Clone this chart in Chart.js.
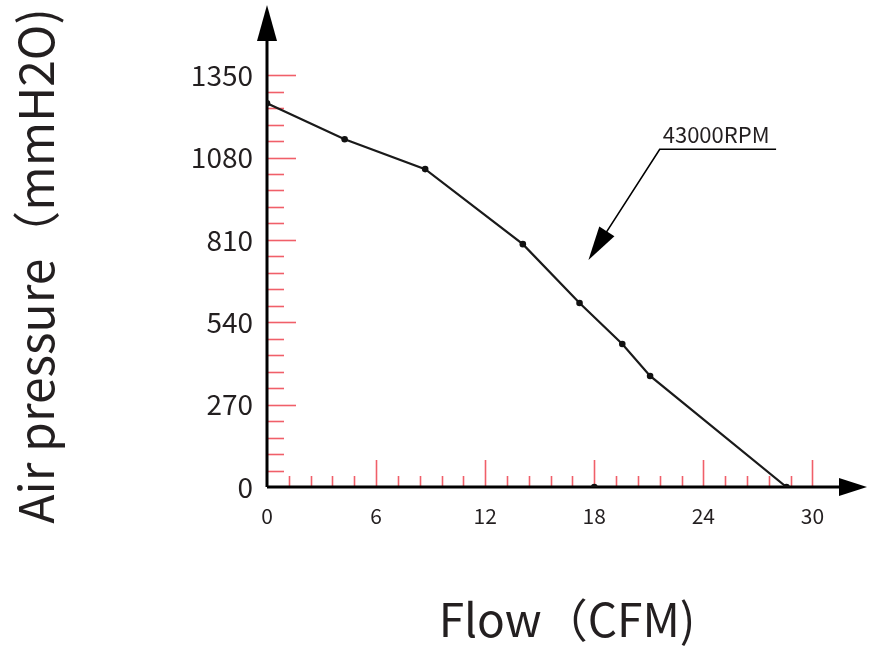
<!DOCTYPE html>
<html><head><meta charset="utf-8">
<script src="https://cdn.jsdelivr.net/npm/chart.js@4/dist/chart.umd.min.js"></script>
<style>html,body{margin:0;padding:0;background:#fff}#wrap{width:871px;height:648px}</style>
</head><body><div id="wrap"><canvas id="c" width="871" height="648"></canvas></div>
<script>
// ---- data ----
const flowCFM   = [0, 4.27, 8.70, 14.07, 17.19, 19.54, 21.07, 28.57];
const pressure  = [1258, 1140, 1042, 796, 603, 469, 364, 0];
const strayFlow = [18];
const strayPressure = [0];
const xTickLabels = [0, 6, 12, 18, 24, 30];
const yTickLabels = [0, 270, 540, 810, 1080, 1350];
const xMinorStep = 1.2;
const yMinorStep = 54;
const curveLabel = '43000RPM';
const xTitle = 'Flow（CFM)';
const yTitle = 'Air pressure（mmH2O)';
// annotation anchors in data units
const noteTextX = 21.6, noteLineEndX = 28.0, noteLineY = 1107, noteTipX = 17.68, noteTipY = 744;

const FONT = '"Noto Sans CJK SC", "Noto Sans", sans-serif';
const TICK_RED = 'rgb(240,95,105)';
const TEXT = '#231f20';

const pts = flowCFM.map((x, i) => ({x, y: pressure[i]}));
const stray = strayFlow.map((x, i) => ({x, y: strayPressure[i]}));

function arrowHead(ctx, tx, ty, fx, fy, len, half) {
  const a = Math.atan2(ty - fy, tx - fx);
  ctx.beginPath();
  ctx.moveTo(tx, ty);
  ctx.lineTo(tx - len * Math.cos(a) + half * Math.sin(a), ty - len * Math.sin(a) - half * Math.cos(a));
  ctx.lineTo(tx - len * Math.cos(a) - half * Math.sin(a), ty - len * Math.sin(a) + half * Math.cos(a));
  ctx.closePath();
  ctx.fill();
}

const decor = {
  id: 'decor',
  beforeDatasetsDraw(chart) {
    const {ctx, scales: {x, y}, chartArea: ca} = chart;
    const x0 = x.getPixelForValue(0), y0 = y.getPixelForValue(0);
    ctx.save();
    // red tick marks
    ctx.strokeStyle = TICK_RED;
    ctx.lineWidth = 1.6;
    for (let k = 1; k * yMinorStep <= 1350 + 1e-6; k++) {
      const v = k * yMinorStep;
      const major = yTickLabels.includes(Math.round(v));
      const py = Math.round(y.getPixelForValue(v)) + 0.5;
      ctx.beginPath();
      ctx.moveTo(x0, py);
      ctx.lineTo(x0 + (major ? 29 : 17), py);
      ctx.stroke();
    }
    for (let k = 1; k * xMinorStep <= 30 + 1e-6; k++) {
      const v = +(k * xMinorStep).toFixed(4);
      const major = xTickLabels.includes(Math.round(v)) && Math.abs(v - Math.round(v)) < 1e-6;
      const px = Math.round(x.getPixelForValue(v)) + 0.5;
      ctx.beginPath();
      ctx.moveTo(px, y0);
      ctx.lineTo(px, y0 - (major ? 27 : 11));
      ctx.stroke();
    }
    // axes
    ctx.strokeStyle = '#000';
    ctx.fillStyle = '#000';
    ctx.lineWidth = 3;
    ctx.beginPath();
    ctx.moveTo(x0, y0);
    ctx.lineTo(ca.right - 20, y0);
    ctx.moveTo(x0, y0);
    ctx.lineTo(x0, ca.top + 20);
    ctx.stroke();
    arrowHead(ctx, ca.right, y0, x0, y0, 28, 9);
    arrowHead(ctx, x0, ca.top, x0, y0, 36, 10);
    ctx.restore();
  },
  afterDraw(chart) {
    const {ctx, scales: {x, y}} = chart;
    ctx.save();
    // annotation
    const lx0 = x.getPixelForValue(noteTextX), lx1 = x.getPixelForValue(noteLineEndX);
    const ly = y.getPixelForValue(noteLineY);
    const tx = x.getPixelForValue(noteTipX), ty = y.getPixelForValue(noteTipY);
    ctx.strokeStyle = '#000'; ctx.fillStyle = '#000'; ctx.lineWidth = 1.6;
    ctx.beginPath();
    ctx.moveTo(lx1, ly); ctx.lineTo(lx0, ly); ctx.lineTo(tx + (lx0 - tx) * 0.2, ty + (ly - ty) * 0.2);
    ctx.stroke();
    arrowHead(ctx, tx, ty, lx0, ly, 34, 9);
    ctx.fillStyle = TEXT;
    ctx.font = '22px ' + FONT;
    ctx.textAlign = 'left'; ctx.textBaseline = 'alphabetic';
    ctx.fillText(curveLabel, lx0 + 3, ly - 6);
    // axis titles
    ctx.font = '46px ' + FONT;
    ctx.textAlign = 'center'; ctx.textBaseline = 'middle';
    ctx.fillText(xTitle, (x.getPixelForValue(0) + chart.chartArea.right) / 2, 620);
    ctx.font = '48px ' + FONT;
    ctx.translate(36, 266);
    ctx.rotate(-Math.PI / 2);
    ctx.fillText(yTitle, 0, 0);
    ctx.restore();
  }
};

function noPad(s) { s.paddingTop = 0; s.paddingBottom = 0; s.paddingLeft = 0; s.paddingRight = 0; }

new Chart(document.getElementById('c'), {
  type: 'scatter',
  data: {
    datasets: [
      {data: pts, showLine: true, borderColor: '#1a1a1a', borderWidth: 2.2, pointRadius: 3.3,
       pointBackgroundColor: '#111', pointBorderWidth: 0, tension: 0},
      {data: stray, showLine: false, pointRadius: 3.3, pointBackgroundColor: '#111', pointBorderWidth: 0}
    ]
  },
  options: {
    responsive: false,
    animation: false,
    devicePixelRatio: 1,
    layout: {padding: {top: 5, right: 1, left: 0, bottom: 0}},
    plugins: {legend: {display: false}, tooltip: {enabled: false}},
    scales: {
      x: {
        type: 'linear', min: 0, max: 33,
        afterBuildTicks: s => { s.ticks = xTickLabels.map(v => ({value: v})); },
        afterFit: s => { s.height = 161; noPad(s); },
        grid: {display: false, drawTicks: false}, border: {display: false},
        ticks: {font: {family: FONT, size: 21}, color: TEXT, padding: 16, maxRotation: 0, autoSkip: false,
                callback: v => String(v)}
      },
      y: {
        type: 'linear', min: 0, max: 1580,
        afterBuildTicks: s => { s.ticks = yTickLabels.map(v => ({value: v})); },
        afterFit: s => { s.width = 267; noPad(s); },
        grid: {display: false, drawTicks: false}, border: {display: false},
        ticks: {font: {family: FONT, size: 28}, color: TEXT, padding: 14, autoSkip: false,
                callback: v => String(v)}
      }
    }
  },
  plugins: [decor]
});
</script></body></html>
